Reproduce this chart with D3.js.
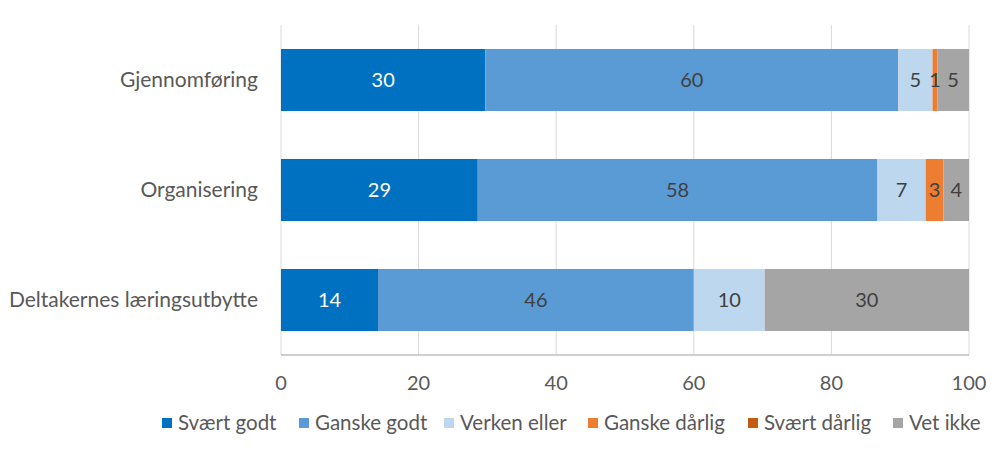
<!DOCTYPE html>
<html><head><meta charset="utf-8">
<script src="https://cdn.jsdelivr.net/npm/d3@7"></script>
<style>body{margin:0;background:#fff}svg{display:block}</style>
</head><body>
<svg id="c" width="1000" height="453"></svg>
<script>
const categories = ["Gjennomføring", "Organisering", "Deltakernes læringsutbytte"];
const seriesNames = ["Svært godt", "Ganske godt", "Verken eller", "Ganske dårlig", "Svært dårlig", "Vet ikke"];
const svartGodt    = [29.7, 28.6, 14.1];
const ganskeGodt   = [60.0, 58.1, 45.9];
const verkenEller  = [5.0, 7.0, 10.3];
const ganskeDarlig = [0.7, 2.6, 0];
const svartDarlig  = [0, 0, 0];
const vetIkke      = [4.6, 3.7, 29.7];
const xTicks = [0, 20, 40, 60, 80, 100];
const colors = ["#0070C0", "#5B9BD5", "#BDD7EE", "#ED7D31", "#C55A11", "#A5A5A5"];

const seriesValues = [svartGodt, ganskeGodt, verkenEller, ganskeDarlig, svartDarlig, vetIkke];
const rows = categories.map((c, i) => {
  const o = {cat: c};
  seriesNames.forEach((s, j) => o[s] = seriesValues[j][i]);
  return o;
});
const stacked = d3.stack().keys(seriesNames)(rows);

const svg = d3.select("#c");
const font = "Lato, 'Open Sans', sans-serif";
const x = d3.scaleLinear().domain([0, 100]).range([281, 969]);
const y = d3.scaleBand().domain(categories).range([25, 355]).paddingInner(0.436).paddingOuter(0.218);

// gridlines
svg.append("g").selectAll("line").data(xTicks).join("line")
  .attr("x1", d => x(d)).attr("x2", d => x(d))
  .attr("y1", 25).attr("y2", 355)
  .attr("stroke", "#D9D9D9").attr("stroke-width", 1);

// bars
const g = svg.append("g");
stacked.forEach((layer, j) => {
  g.append("g").selectAll("rect").data(layer).join("rect")
    .attr("x", d => x(d[0]))
    .attr("width", d => x(d[1]) - x(d[0]))
    .attr("y", d => y(d.data.cat))
    .attr("height", y.bandwidth())
    .attr("fill", colors[j]);
});
// labels
stacked.forEach((layer, j) => {
  g.append("g").selectAll("text").data(layer.filter(d => d[1] - d[0] > 0)).join("text")
    .attr("x", d => (x(d[0]) + x(d[1])) / 2)
    .attr("y", d => y(d.data.cat) + y.bandwidth() / 2)
    .attr("dy", "0.35em")
    .attr("text-anchor", "middle")
    .attr("font-family", font).attr("font-size", 20)
    .attr("fill", j === 0 ? "#FFFFFF" : "#404040")
    .text(d => Math.round(d[1] - d[0]));
});

// axis line
svg.append("line").attr("x1", x(0)).attr("x2", x(100)).attr("y1", 355).attr("y2", 355)
  .attr("stroke", "#BFBFBF").attr("stroke-width", 1.5);

// x tick labels
svg.append("g").selectAll("text").data(xTicks).join("text")
  .attr("x", d => x(d)).attr("y", 383).attr("dy", "0.35em")
  .attr("text-anchor", "middle").attr("font-family", font).attr("font-size", 20)
  .attr("fill", "#595959").text(d => d);

// category labels
svg.append("g").selectAll("text").data(categories).join("text")
  .attr("x", 258).attr("y", d => y(d) + y.bandwidth() / 2).attr("dy", "0.35em")
  .attr("text-anchor", "end").attr("font-family", font).attr("font-size", 21)
  .attr("fill", "#595959").text(d => d);

// legend
const legX = [162, 299, 444, 588, 748, 893];
const leg = svg.append("g").selectAll("g").data(seriesNames).join("g")
  .attr("transform", (d, i) => `translate(${legX[i]},423)`);
leg.append("rect").attr("x", 0).attr("y", -5).attr("width", 10).attr("height", 10)
  .attr("fill", (d, i) => colors[i]);
leg.append("text").attr("x", 16).attr("dy", "0.35em")
  .attr("font-family", font).attr("font-size", 20.5).attr("fill", "#595959").text(d => d);
</script>
</body></html>
